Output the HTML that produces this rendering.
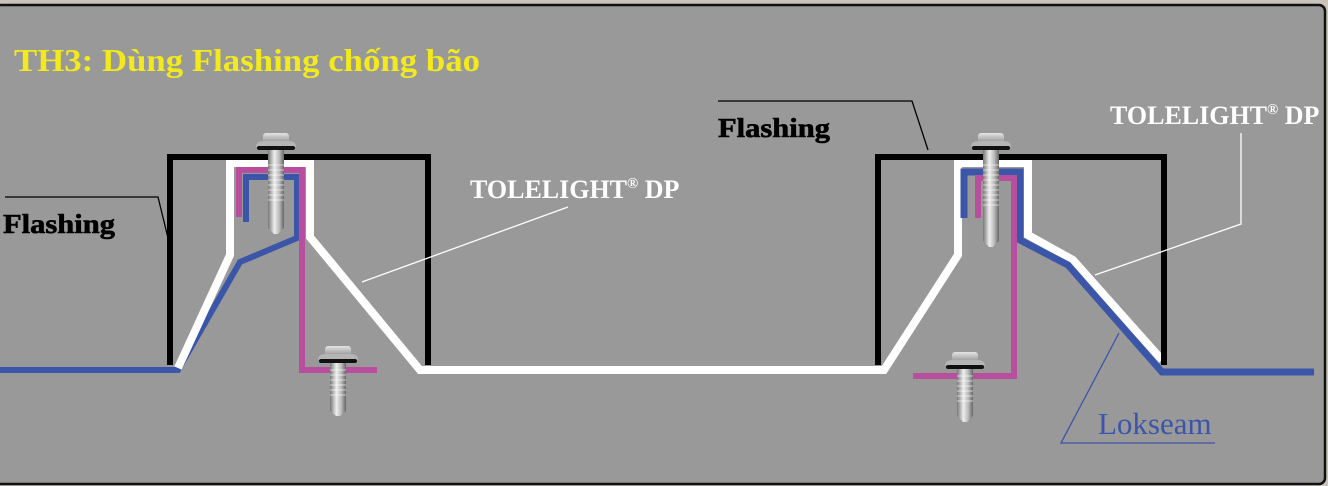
<!DOCTYPE html>
<html><head><meta charset="utf-8"><style>
html,body{margin:0;padding:0;background:#c9c3bb;}
svg{display:block}
</style></head><body>
<svg width="1328" height="486" viewBox="0 0 1328 486" xmlns="http://www.w3.org/2000/svg">
<defs>
<linearGradient id="sh" x1="0" x2="1"><stop offset="0" stop-color="#777"/><stop offset="0.4" stop-color="#eee"/><stop offset="0.7" stop-color="#bbb"/><stop offset="1" stop-color="#666"/></linearGradient>
<linearGradient id="hd" x1="0" y1="0" x2="0" y2="1"><stop offset="0" stop-color="#e4e4e4"/><stop offset="1" stop-color="#8a8a8a"/></linearGradient>
<g id="head">
<rect x="-13" y="0" width="26" height="11" rx="3" fill="url(#hd)"/>
<path d="M-20,14 Q-20,8 -12,8 H12 Q20,8 20,14 Z" fill="#b5b5b5"/>
<rect x="-19" y="13" width="38" height="4" rx="2" fill="#111"/>
</g>
</defs>
<rect x="0" y="0" width="1328" height="486" fill="#c9c3bb"/>
<rect x="-5" y="5" width="1330" height="479" rx="6" fill="#999999" stroke="#111" stroke-width="2.5"/>

<text x="14" y="71" font-family="Liberation Serif,serif" font-weight="bold" font-size="32" fill="#f2ea1c" textLength="466" lengthAdjust="spacingAndGlyphs">TH3: Dùng Flashing chống bão</text>

<path d="M0,370 H178 L240,262 L297,238 V177 H246 V222" fill="none" stroke="#3b55a8" stroke-width="6"/>
<path d="M178,368 L230,255 V163 H310 V237 L420,370 H884 L958,255 V163 H1028 V235 L1073,260 L1162,360" fill="none" stroke="#fff" stroke-width="8"/>
<path d="M239,217 V170 H302 V370 H377" fill="none" stroke="#b84e9e" stroke-width="6"/>
<path d="M170,365 V157 H428 V365" fill="none" stroke="#000" stroke-width="6"/>

<path d="M964,218 V172 H1020 V240 L1068,265 L1162,372 H1314" fill="none" stroke="#3b55a8" stroke-width="7"/>
<path d="M978,218 V178 H1014 V376 H913" fill="none" stroke="#b84e9e" stroke-width="6"/>
<path d="M878,365 V157 H1164 V365" fill="none" stroke="#000" stroke-width="6"/>

<g transform="translate(276,133)">
<path d="M-8,17 H8 V95 L2,101 H-2 L-8,95 Z" fill="url(#sh)"/>
<path d="M-8,32h16M-8,37h16M-8,42h16M-8,47h16M-8,52h16M-8,57h16M-8,62h16M-8,67h16" stroke="#fff" stroke-width="0.8" opacity="0.8"/>
<use href="#head"/>
</g>
<g transform="translate(338,346)">
<path d="M-8,17 H8 V65 L2,70 H-2 L-8,65 Z" fill="url(#sh)"/>
<path d="M-8,24h16M-8,29h16M-8,34h16M-8,39h16M-8,44h16M-8,49h16" stroke="#fff" stroke-width="0.8" opacity="0.8"/>
<use href="#head"/>
</g>
<g transform="translate(991,133)">
<path d="M-8,17 H8 V108 L2,114 H-2 L-8,108 Z" fill="url(#sh)"/>
<path d="M-8,32h16M-8,37h16M-8,42h16M-8,47h16M-8,52h16M-8,57h16M-8,62h16M-8,67h16M-8,72h16" stroke="#fff" stroke-width="0.8" opacity="0.8"/>
<use href="#head"/>
</g>
<g transform="translate(965,352)">
<path d="M-8,17 H8 V64 L2,70 H-2 L-8,64 Z" fill="url(#sh)"/>
<path d="M-8,24h16M-8,29h16M-8,34h16M-8,39h16M-8,44h16M-8,49h16" stroke="#fff" stroke-width="0.8" opacity="0.8"/>
<use href="#head"/>
</g>

<path d="M5,197 H158 L168,238" fill="none" stroke="#000" stroke-width="1.3"/>
<path d="M718,101 H912 L928,150" fill="none" stroke="#000" stroke-width="1.3"/>
<path d="M362,282 L568,207" stroke="#fff" stroke-width="1.3"/>
<path d="M1095,275 L1241,224 V133" fill="none" stroke="#fff" stroke-width="1.3"/>
<path d="M1119,333 L1061,443 H1215" fill="none" stroke="#3b55a8" stroke-width="1.3"/>

<g font-family="Liberation Serif,serif" font-weight="bold">
<text x="3" y="233" font-size="27" fill="#000" stroke="#000" stroke-width="0.6" textLength="112" lengthAdjust="spacingAndGlyphs">Flashing</text>
<text x="718" y="137" font-size="27" fill="#000" stroke="#000" stroke-width="0.6" textLength="112" lengthAdjust="spacingAndGlyphs">Flashing</text>
<text x="470" y="198" font-size="26" fill="#fff">TOLELIGHT<tspan font-size="15" dy="-10">®</tspan><tspan dy="10"> DP</tspan></text>
<text x="1110" y="124" font-size="26" fill="#fff">TOLELIGHT<tspan font-size="15" dy="-10">®</tspan><tspan dy="10"> DP</tspan></text>
</g>
<text x="1098" y="434" font-family="Liberation Serif,serif" font-size="31" fill="#3b55a8">Lokseam</text>
</svg>
</body></html>
